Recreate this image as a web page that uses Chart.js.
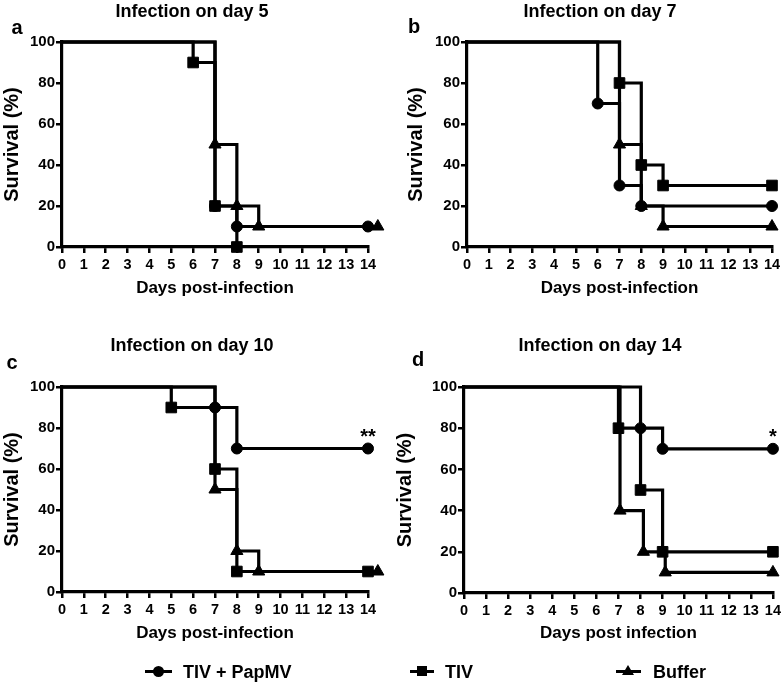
<!DOCTYPE html>
<html><head><meta charset="utf-8">
<script src="https://cdn.jsdelivr.net/npm/chart.js@4.4.1/dist/chart.umd.min.js"></script>
<style>
html,body{margin:0;padding:0;background:#fff;}
#wrap{position:relative;width:784px;height:686px;overflow:hidden;background:#fff;font-family:"Liberation Sans",Arial,sans-serif;font-weight:bold;}
#wrap canvas{position:absolute;left:0;top:0;}
.lm{position:absolute;height:3px;background:#000;}
.lt{position:absolute;font-size:18px;line-height:18px;color:#000;white-space:nowrap;}
.dot{position:absolute;width:11px;height:11px;border-radius:50%;background:#000;}
.sq{position:absolute;width:10px;height:10px;background:#000;}
.tri{position:absolute;width:0;height:0;border-left:6px solid transparent;border-right:6px solid transparent;border-bottom:10px solid #000;}
</style></head><body>
<div id="wrap">
<canvas id="ca" width="784" height="686"></canvas>
<canvas id="cb" width="784" height="686"></canvas>
<canvas id="cc" width="784" height="686"></canvas>
<canvas id="cd" width="784" height="686"></canvas>
<div class="lm" style="left:145px;top:670px;width:27px"></div><div class="dot" style="left:153px;top:666px"></div>
<div class="lt" id="l0" style="left:183px;top:663px"></div>
<div class="lm" style="left:410px;top:670px;width:24px"></div><div class="sq" style="left:417px;top:666px"></div>
<div class="lt" id="l1" style="left:445px;top:663px"></div>
<div class="lm" style="left:616px;top:670px;width:25px"></div><div class="tri" style="left:622px;top:665px"></div>
<div class="lt" id="l2" style="left:653px;top:663px"></div>
</div>
<script>
// ---- data ----
const seriesNames = ['TIV + PapMV', 'TIV', 'Buffer'];
const xTickValues = [0,1,2,3,4,5,6,7,8,9,10,11,12,13,14];
const yTickValues = [0,20,40,60,80,100];

// Panel a: infection on day 5
const aPapmvDays = [0,7,8,14];        const aPapmvSurv = [100,20,10,10];
const aTivDays   = [0,6,7,8];         const aTivSurv   = [100,90,20,0];
const aBufDays   = [0,7,8,9,14.45];   const aBufSurv   = [100,50,20,10,10];
// Panel b: infection on day 7
const bPapmvDays = [0,6,7,8,14];      const bPapmvSurv = [100,70,30,20,20];
const bTivDays   = [0,7,8,9,14];      const bTivSurv   = [100,80,40,30,30];
const bBufDays   = [0,7,8,9,14];      const bBufSurv   = [100,50,20,10,10];
// Panel c: infection on day 10
const cPapmvDays = [0,7,8,14];        const cPapmvSurv = [100,90,70,70];
const cTivDays   = [0,5,7,8,14];      const cTivSurv   = [100,90,60,10,10];
const cBufDays   = [0,7,8,9,14.45];   const cBufSurv   = [100,50,20,10,10];
// Panel d: infection on day 14
const dPapmvDays = [0,8,9,14];        const dPapmvSurv = [100,80,70,70];
const dTivDays   = [0,7,8,9,14];      const dTivSurv   = [100,80,50,20,20];
const dBufDays   = [0,7.07,8.13,9.12,14]; const dBufSurv = [100,40,20,10,10];

const titles = ['Infection on day 5','Infection on day 7','Infection on day 10','Infection on day 14'];
const letters = ['a','b','c','d'];
const xTitles = ['Days post-infection','Days post-infection','Days post-infection','Days post infection'];
const yTitle = 'Survival (%)';
const sigLabels = [null, null, '**', '*'];
const sigAt = [null, null, [14,70], [14,70]];

// ---- layout ----
const FONT = '"Liberation Sans", Arial, sans-serif';
const panels = [
  {id:'ca', tx:192, ty:11, lx:17, ly:28, area:{l:62,r:368,t:42,b:247}, yLeft:0.5, xTitleY:288,
   sets:[[aPapmvDays,aPapmvSurv],[aTivDays,aTivSurv],[aBufDays,aBufSurv]]},
  {id:'cb', tx:600, ty:11, lx:414, ly:27, area:{l:467,r:772,t:42,b:247}, yLeft:404, xTitleY:288,
   sets:[[bPapmvDays,bPapmvSurv],[bTivDays,bTivSurv],[bBufDays,bBufSurv]]},
  {id:'cc', tx:192, ty:345, lx:12, ly:363, area:{l:62,r:368,t:387,b:592}, yLeft:0.5, xTitleY:633,
   sets:[[cPapmvDays,cPapmvSurv],[cTivDays,cTivSurv],[cBufDays,cBufSurv]]},
  {id:'cd', tx:600, ty:345, lx:418, ly:360, area:{l:464,r:775,t:387,b:593}, yLeft:393, xTitleY:633,
   sets:[[dPapmvDays,dPapmvSurv],[dTivDays,dTivSurv],[dBufDays,dBufSurv]]}
];
const styles = ['circle','rect','triangle'];
const radii = [5.5, 7.5, 7];

seriesNames.forEach((n,i)=>{document.getElementById('l'+i).textContent = n;});

// draws point elements that lie just outside the plot area (Chart.js skips them by default)
const edgePoints = {
  id: 'edgePoints',
  afterDatasetsDraw(chart) {
    const full = {left: 0, top: 0, right: chart.width, bottom: chart.height};
    const a = chart.chartArea;
    chart.data.datasets.forEach((ds, i) => {
      chart.getDatasetMeta(i).data.forEach(pt => {
        if (pt.x > a.right + 1 || pt.x < a.left - 1) pt.draw(chart.ctx, full);
      });
    });
  }
};

panels.forEach((p, pi) => {
  const datasets = p.sets.map((s, si) => ({
    label: seriesNames[si],
    data: s[0].map((x, k) => ({x: x, y: s[1][k]})),
    stepped: true,
    borderColor: '#000',
    borderWidth: 3.2,
    borderCapStyle: 'butt',
    borderJoinStyle: 'miter',
    fill: false,
    clip: false,
    pointStyle: styles[si],
    pointRadius: ctx => ctx.dataIndex === 0 ? 0 : radii[si],
    pointHoverRadius: ctx => ctx.dataIndex === 0 ? 0 : radii[si],
    pointBackgroundColor: '#000',
    pointBorderColor: '#000',
    pointBorderWidth: 1
  }));
  const xTitleFont = 17, xTitleLH = xTitleFont * 1.2;
  const XH = p.xTitleY - p.area.b + xTitleLH / 2;
  const deco = {
    id: 'deco' + pi,
    afterDraw(chart) {
      const ctx = chart.ctx;
      ctx.save();
      ctx.fillStyle = '#000';
      ctx.textAlign = 'center';
      ctx.textBaseline = 'middle';
      ctx.font = 'bold 18px ' + FONT;
      ctx.fillText(titles[pi], p.tx, p.ty + 1);
      ctx.font = 'bold 20px ' + FONT;
      ctx.fillText(letters[pi], p.lx, p.ly);
      if (sigLabels[pi]) {
        const xs = chart.scales.x.getPixelForValue(sigAt[pi][0]);
        const ys = chart.scales.y.getPixelForValue(sigAt[pi][1]);
        ctx.font = 'bold 20px ' + FONT;
        ctx.textBaseline = 'alphabetic';
        ctx.fillText(sigLabels[pi], xs, ys - 6);
      }
      ctx.restore();
    }
  };
  new Chart(document.getElementById(p.id), {
    type: 'line',
    data: {datasets},
    plugins: [edgePoints, deco],
    options: {
      responsive: false,
      animation: false,
      events: [],
      layout: {padding: {left: p.yLeft, top: p.area.t, right: 784 - p.area.r, bottom: 686 - p.area.b - XH}},
      plugins: {legend: {display: false}, title: {display: false}, tooltip: {enabled: false}},
      scales: {
        x: {
          type: 'linear', min: 0, max: 14,
          afterBuildTicks: s => { s.ticks = xTickValues.map(v => ({value: v})); },
          afterFit: s => { s.height = XH; },
          ticks: {color: '#000', font: {family: FONT, size: 14.5, weight: 'bold'}, padding: 3, autoSkip: false, maxRotation: 0},
          grid: {drawOnChartArea: false, drawTicks: true, tickLength: 6, color: '#000', lineWidth: 2.5},
          border: {display: true, color: '#000', width: 3.2},
          title: {display: true, text: xTitles[pi], color: '#000', font: {family: FONT, size: xTitleFont, weight: 'bold', lineHeight: 1.2}, padding: 0}
        },
        y: {
          type: 'linear', min: 0, max: 100,
          afterBuildTicks: s => { s.ticks = yTickValues.map(v => ({value: v})); },
          afterFit: s => { s.width = p.area.l - p.yLeft; },
          ticks: {color: '#000', font: {family: FONT, size: 15, weight: 'bold'}, padding: 1},
          grid: {drawOnChartArea: false, drawTicks: true, tickLength: 6, color: '#000', lineWidth: 2.5},
          border: {display: true, color: '#000', width: 3.2},
          title: {display: true, text: yTitle, color: '#000', font: {family: FONT, size: 20, weight: 'bold', lineHeight: 1.2}, padding: {top: 0, bottom: 0}}
        }
      }
    }
  });
});
</script>
</body></html>
